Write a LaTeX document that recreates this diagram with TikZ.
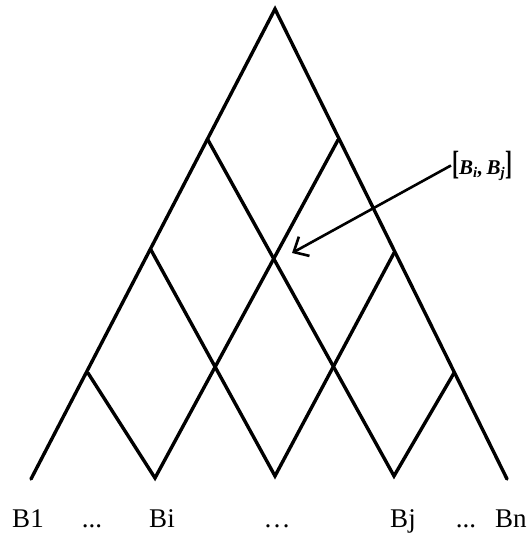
\documentclass[tikz,border=0pt]{standalone}
\usepackage{fontspec}
\setmainfont{Liberation Serif}
\usetikzlibrary{arrows.meta}

\begin{document}
\begin{tikzpicture}[x=1pt, y=-1pt, >={Straight Barb[length=12pt, width=22pt]},
  lattice/.style={line width=3.4pt, line cap=round},
  leaf/.style={font=\fontsize{27}{30}\selectfont, anchor=base, inner sep=0pt}]
  \useasboundingbox (0,0) rectangle (528,533);
  \coordinate (apex) at (275,9);
  \coordinate (L0) at (31,479);
  \coordinate (L1) at (88,373);
  \coordinate (L2) at (151,250);
  \coordinate (L3) at (208,140);
  \coordinate (R0) at (507,479);
  \coordinate (R1) at (454,373);
  \coordinate (R2) at (394,253);
  \coordinate (R3) at (338,140);
  \coordinate (b1) at (155,478);
  \coordinate (b2) at (275,476);
  \coordinate (b3) at (394,476);
  \coordinate (pairtip) at (292,253);
  \draw[lattice] (L0) -- (apex) -- (R0);
  \draw[lattice] (L1) -- (b1) -- (R3);
  \draw[lattice] (L2) -- (b2) -- (R2);
  \draw[lattice] (L3) -- (b3) -- (R1);
  \node[font=\fontsize{21}{24}\selectfont\bfseries\itshape, inner sep=1pt, anchor=base west] (pair) at (451,174)
    {\scalebox{1}[1.6]{\upshape[}B\textsubscript{i},\,B\textsubscript{j}\scalebox{1}[1.6]{\upshape]}};
  \draw[->, line width=2.6pt] (pair.west) -- (pairtip);
  \node[leaf] (b1lbl) at (28,527) {B1};
  \node[leaf] (dotsa) at (92,527) {...};
  \node[leaf] (bilbl) at (162,527) {Bi};
  \node[leaf] (dotsb) at (277,527) {\ldots};
  \node[leaf] (bjlbl) at (403,527) {Bj};
  \node[leaf] (dotsc) at (466,527) {...};
  \node[leaf, anchor=base west] (bnlbl) at (495,527) {Bn};
\end{tikzpicture}
\end{document}
